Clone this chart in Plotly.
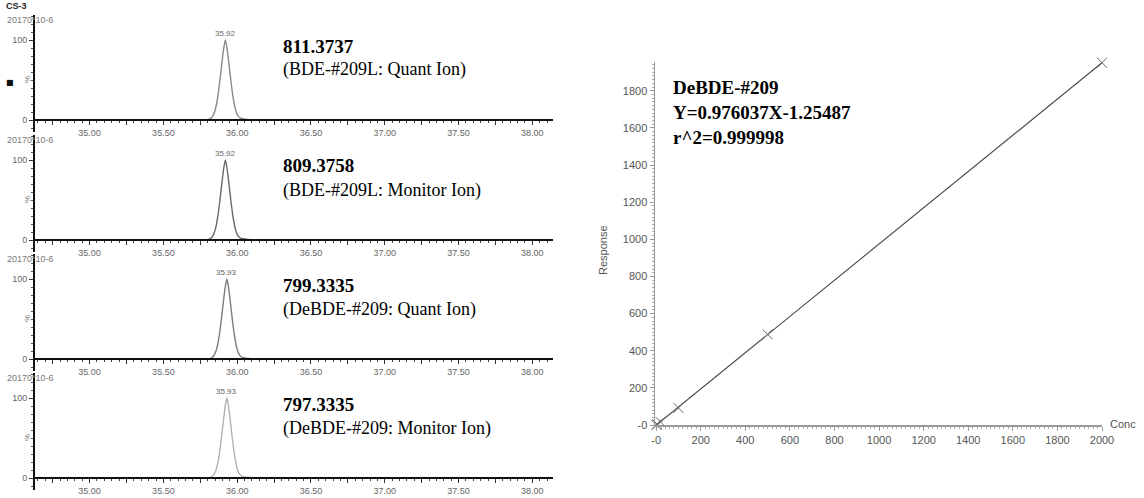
import plotly.graph_objects as go

W, H = 1144, 498

# ---------------- data ----------------
ion_mz = ["811.3737", "809.3758", "799.3335", "797.3335"]
ion_desc = ["(BDE-#209L: Quant Ion)", "(BDE-#209L: Monitor Ion)",
            "(DeBDE-#209: Quant Ion)", "(DeBDE-#209: Monitor Ion)"]
apex_labels = ["35.92", "35.92", "35.93", "35.93"]
apex_rt = [35.92, 35.92, 35.93, 35.93]

rt_a = [34.63, 35.78, 35.80, 35.81, 35.82, 35.83, 35.84, 35.85, 35.86, 35.87, 35.88, 35.89,
        35.90, 35.91, 35.92, 35.93, 35.94, 35.95, 35.96, 35.97, 35.98, 35.99,
        36.00, 36.01, 36.02, 36.04, 36.07, 36.12, 38.14]
rt_b = [34.63, 35.79, 35.81, 35.82, 35.83, 35.84, 35.85, 35.86, 35.87, 35.88, 35.89, 35.90,
        35.91, 35.92, 35.93, 35.94, 35.95, 35.96, 35.97, 35.98, 35.99, 36.00,
        36.01, 36.02, 36.03, 36.05, 36.08, 36.13, 38.14]
int_1 = [0, 0, 0.4, 1.0, 2.0, 3.8, 7, 12, 20, 31, 45, 61, 77, 91, 100, 91, 77, 61,
         45, 31, 20, 12, 7, 4.2, 2.6, 1.4, 0.7, 0.3, 0]
int_2 = [0, 0, 0.4, 1.0, 2.0, 3.8, 7, 12, 20, 31, 45, 61, 77, 91, 100, 91, 77, 61,
         45, 31, 20, 12, 7, 4.3, 2.7, 1.5, 0.8, 0.3, 0]
int_3 = [0, 0, 0.3, 0.9, 1.9, 3.7, 7, 12, 20, 31, 45, 61, 77, 91, 100, 91, 77, 61,
         45, 31, 20, 12, 7, 4.1, 2.5, 1.3, 0.6, 0.3, 0]
int_4 = [0, 0, 0.3, 0.9, 1.9, 3.7, 7, 12, 20, 31, 45, 61, 77, 91, 100, 91, 77, 61,
         45, 31, 20, 12, 7, 4.2, 2.6, 1.4, 0.7, 0.3, 0]
peak_rt = [rt_a, rt_a, rt_b, rt_b]
peak_int = [int_1, int_2, int_3, int_4]
peak_colors = ["#8a8a8a", "#6a6a6a", "#7c7c7c", "#b2b2b2"]

rt_ticks = [34.75, 35.00, 35.25, 35.50, 35.75, 36.00, 36.25, 36.50, 36.75,
            37.00, 37.25, 37.50, 37.75, 38.00]
rt_labels = ["", "35.00", "", "35.50", "", "36.00", "", "36.50", "",
             "37.00", "", "37.50", "", "38.00"]

cal_conc = [1, 5, 20, 100, 500, 2000]
cal_resp = [0.6, 3.8, 16.5, 92.0, 488.0, 1951.0]
fit_conc = [0, 2000]
fit_resp = [-1.25, 1950.82]
conc_ticks = [0, 200, 400, 600, 800, 1000, 1200, 1400, 1600, 1800, 2000]
conc_labels = ["-0", "200", "400", "600", "800", "1000", "1200", "1400",
               "1600", "1800", "2000"]
resp_ticks = [0, 200, 400, 600, 800, 1000, 1200, 1400, 1600, 1800]
resp_labels = ["-0", "200", "400", "600", "800", "1000", "1200", "1400",
               "1600", "1800"]
cal_title = ["DeBDE-#209", "Y=0.976037X-1.25487", "r^2=0.999998"]

# ---------------- layout helpers ----------------
def px(x):
    return x / W

def py(y):
    return 1 - y / H

zero_y = [120, 240, 359, 478]
left_x0, left_x1 = 35, 553
SERIF = "Liberation Serif, Times New Roman, serif"
SANS = "Liberation Sans, Arial, sans-serif"

fig = go.Figure()
layout = dict(
    template=go.layout.Template(),
    width=W, height=H, margin=dict(l=0, r=0, t=0, b=0, pad=0, autoexpand=False),
    paper_bgcolor="white", plot_bgcolor="white", showlegend=False,
    font=dict(family=SANS, color="#555"),
)
annotations = []

for k in range(4):
    n = "" if k == 0 else str(k + 1)
    xa, ya = "xaxis" + n, "yaxis" + n
    y0 = zero_y[k]
    fig.add_trace(go.Scatter(x=peak_rt[k], y=peak_int[k], mode="lines",
                             line=dict(color=peak_colors[k], width=1.4, shape="spline", smoothing=0.6),
                             xaxis="x" + n, yaxis="y" + n, hoverinfo="skip"))
    layout[xa] = dict(range=[34.63, 38.14], domain=[px(left_x0), px(left_x1)],
                      anchor="free", position=py(y0), automargin=False,
                      showline=True, linecolor="#111", linewidth=2,
                      ticks="outside", ticklen=4, tickwidth=1, tickcolor="#333",
                      tickvals=rt_ticks, ticktext=rt_labels,
                      tickfont=dict(family=SANS, size=9, color="#666"),
                      minor=dict(dtick=0.05, tick0=35.0, ticklen=2, tickcolor="#444", ticks="outside"),
                      showgrid=False, zeroline=False, fixedrange=True)
    layout[ya] = dict(range=[-15, 131.25], domain=[py(y0 + 12), py(y0 - 105)],
                      anchor="x" + n, automargin=False,
                      showline=True, linecolor="#111", linewidth=2,
                      ticks="outside", ticklen=4, tickwidth=1, tickcolor="#333",
                      tickvals=[0, 100], ticktext=["0", "100"],
                      tickfont=dict(family=SANS, size=9, color="#666"),
                      minor=dict(dtick=10, tick0=0, ticklen=2, tickcolor="#555", ticks="outside"),
                      showgrid=False, zeroline=False, fixedrange=True)
    annotations.append(dict(x=apex_rt[k], y=100, xref="x" + n, yref="y" + n,
                            text=apex_labels[k], showarrow=False, yanchor="bottom",
                            xanchor="center", font=dict(size=8, color="#666")))
    annotations.append(dict(x=px(31), y=py(y0 - 100), xref="paper", yref="paper",
                            text="20170*10-6", showarrow=False, xanchor="center",
                            yanchor="middle", font=dict(size=9, color="#777")))
    annotations.append(dict(x=px(27), y=py(y0 - 40), xref="paper", yref="paper",
                            text="%", showarrow=False, textangle=-90, xanchor="center",
                            yanchor="middle", font=dict(size=8, color="#777")))
    annotations.append(dict(x=px(281), y=py(y0 - 74), xref="paper", yref="paper",
                            text="<b>" + ion_mz[k] + "</b>", showarrow=False,
                            xanchor="left", yanchor="middle",
                            font=dict(family=SERIF, size=19, color="#000")))
    annotations.append(dict(x=px(281), y=py(y0 - 50), xref="paper", yref="paper",
                            text=ion_desc[k], showarrow=False,
                            xanchor="left", yanchor="middle",
                            font=dict(family=SERIF, size=18, color="#000")))

annotations.append(dict(x=px(4), y=py(6), xref="paper", yref="paper", text="<b>CS-3</b>",
                        showarrow=False, xanchor="left", yanchor="middle",
                        font=dict(size=9, color="#222")))
annotations.append(dict(x=px(10), y=py(82), xref="paper", yref="paper", text="■",
                        showarrow=False, xanchor="center", yanchor="middle",
                        font=dict(family="DejaVu Sans", size=8, color="#111")))

# ---------------- calibration curve ----------------
fig.add_trace(go.Scatter(x=fit_conc, y=fit_resp, mode="lines",
                         line=dict(color="#444", width=1.1),
                         xaxis="x5", yaxis="y5", hoverinfo="skip", cliponaxis=False))
fig.add_trace(go.Scatter(x=cal_conc, y=cal_resp, mode="markers",
                         marker=dict(symbol="x-thin", size=10, color="#666",
                                     line=dict(width=1, color="#666")),
                         xaxis="x5", yaxis="y5", cliponaxis=False))

layout["xaxis5"] = dict(range=[-5, 2000], domain=[px(655), px(1102)], anchor="y5",
                        automargin=False,
                        showline=True, linecolor="#999", linewidth=1.5,
                        ticks="outside", ticklen=4, tickcolor="#999",
                        tickvals=conc_ticks, ticktext=conc_labels,
                        tickfont=dict(family=SANS, size=11, color="#555"),
                        minor=dict(dtick=20, tick0=0, ticklen=2, tickcolor="#aaa", ticks="outside"),
                        showgrid=False, zeroline=False, fixedrange=True)
layout["yaxis5"] = dict(range=[0, 1955], domain=[py(425), py(62)], anchor="x5",
                        automargin=False,
                        showline=True, linecolor="#999", linewidth=1.5,
                        ticks="outside", ticklen=4, tickcolor="#999",
                        tickvals=resp_ticks, ticktext=resp_labels,
                        tickfont=dict(family=SANS, size=11, color="#555"),
                        minor=dict(dtick=20, tick0=0, ticklen=2, tickcolor="#aaa", ticks="outside"),
                        showgrid=False, zeroline=False, fixedrange=True)

annotations.append(dict(x=px(603), y=py(250), xref="paper", yref="paper", text="Response",
                        showarrow=False, textangle=-90, xanchor="center", yanchor="middle",
                        font=dict(size=11, color="#555")))
annotations.append(dict(x=px(1108), y=py(424), xref="paper", yref="paper", text="Conc",
                        showarrow=False, xanchor="left", yanchor="middle",
                        font=dict(size=11, color="#555")))
for i, t in enumerate(cal_title):
    annotations.append(dict(x=px(671), y=py(88 + 24.5 * i), xref="paper", yref="paper",
                            text="<b>" + t + "</b>", showarrow=False,
                            xanchor="left", yanchor="middle",
                            font=dict(family=SERIF, size=19, color="#000")))

layout["annotations"] = annotations
fig.update_layout(**layout)
fig.write_html(
    "out.html",
    config={"displayModeBar": False, "staticPlot": True},
    post_script="document.body.style.margin='0';document.body.style.overflow='hidden';",
)
